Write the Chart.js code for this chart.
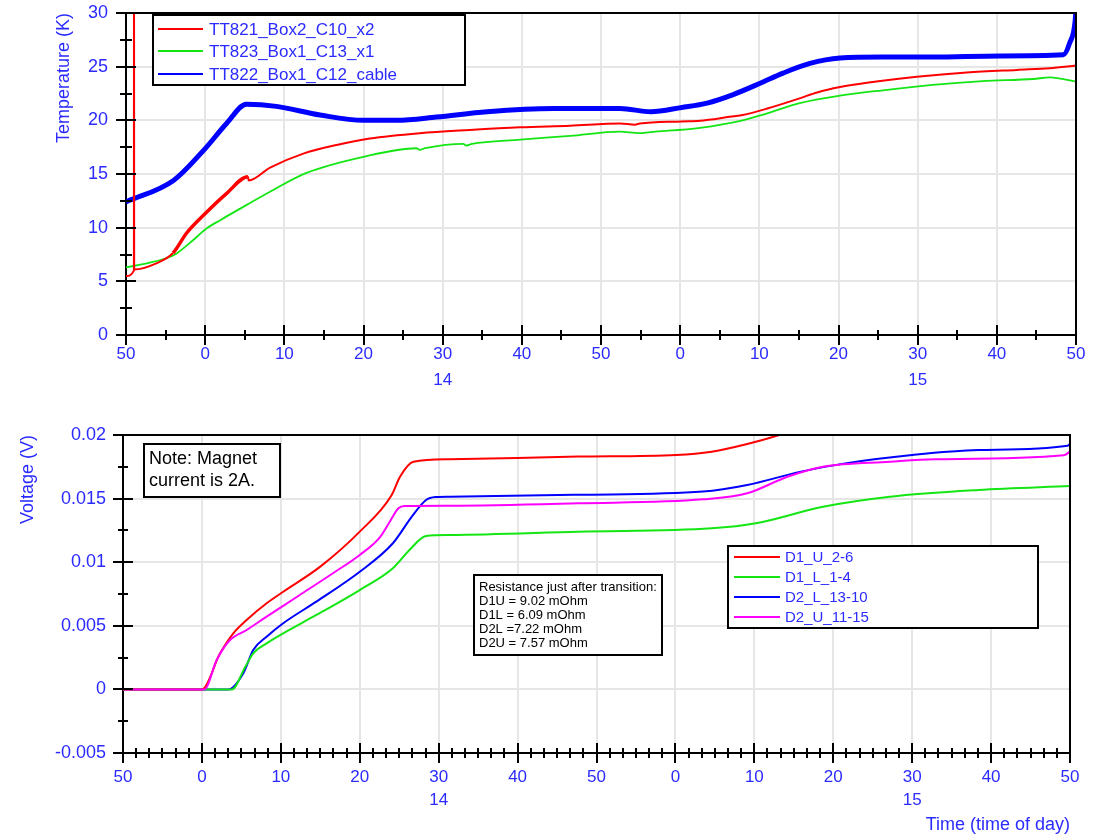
<!DOCTYPE html>
<html>
<head>
<meta charset="utf-8">
<title>Temperature and voltage vs time of day</title>
<script src="https://cdn.jsdelivr.net/npm/chart.js@4.4.1/dist/chart.umd.min.js"></script>
<style>
  html, body { margin: 0; padding: 0; background: #ffffff; }
  #wrap { position: relative; width: 1102px; height: 836px; overflow: hidden; background: #ffffff; }
  canvas { position: absolute; left: 0; }
  #tempCanvas { top: 0; }
  #voltCanvas { top: 400px; }
</style>
</head>
<body>
<div id="wrap">
  <canvas id="tempCanvas" width="1102" height="400"></canvas>
  <canvas id="voltCanvas" width="1102" height="436"></canvas>
</div>
<script>
// ---- Time axis (minutes after 13:50) ----
const minuteTickLabels = ['50', '0', '10', '20', '30', '40', '50', '0', '10', '20', '30', '40', '50'];
const hourTickIndex = [4, 10];
const hourTickLabels = ['14', '15'];

// ---- Temperatures (K) ----
const tt821Time = [0, 1.0, 1.01, 1.03, 3.9, 5.94, 7.66, 9.98, 12.72, 15.4, 15.5, 18.2, 22.4, 26.6, 30.8, 37.1, 43.4, 49.8, 56.1, 62.4, 64.3, 64.9, 70.2, 72.5, 76.0, 77.9, 81.0, 85.1, 87.3, 90.2, 93.6, 99.9, 106.2, 112.5, 116.7, 120];
const tt821Temp = [5.5, 6.0, 40, 6.1, 6.7, 7.64, 9.5, 11.3, 13.2, 14.75, 14.4, 15.6, 16.9, 17.7, 18.3, 18.8, 19.1, 19.35, 19.5, 19.7, 19.6, 19.7, 19.9, 19.97, 20.3, 20.5, 21.1, 22.05, 22.6, 23.1, 23.5, 24.05, 24.45, 24.7, 24.85, 25.1];

const tt823Time = [0, 3.0, 5.1, 6.4, 8.5, 10.2, 11.9, 15.2, 18.2, 22.8, 30.0, 36.7, 37.1, 37.8, 42.6, 43.0, 43.7, 49.8, 56.1, 62.4, 64.8, 66.2, 72.5, 77.9, 81.0, 85.1, 90.2, 95.6, 101.9, 108.2, 114.6, 116.7, 120];
const tt823Temp = [6.3, 6.74, 7.15, 7.6, 8.85, 9.94, 10.7, 12.1, 13.35, 15.1, 16.6, 17.4, 17.25, 17.4, 17.8, 17.65, 17.8, 18.2, 18.55, 18.95, 18.8, 18.9, 19.3, 20.0, 20.65, 21.6, 22.3, 22.8, 23.3, 23.65, 23.85, 24.0, 23.6];

const tt822Time = [0, 6.0, 9.8, 12.7, 15.2, 19.0, 24.5, 30.0, 34.2, 39.2, 45.6, 54.0, 62.4, 66.3, 70.2, 73.4, 76.7, 80.1, 83.0, 86.4, 90.2, 95.6, 101.9, 110.4, 118.4, 119.2, 119.9, 120];
const tt822Temp = [12.4, 14.4, 17.2, 19.7, 21.5, 21.3, 20.5, 20.0, 20.0, 20.3, 20.8, 21.1, 21.1, 20.8, 21.2, 21.6, 22.4, 23.45, 24.4, 25.3, 25.8, 25.9, 25.9, 26.0, 26.1, 27.2, 29.3, 30.5];

// ---- Voltages (V) ----
const d1uTime = [0, 10.0, 12.3, 13.98, 15.67, 18.2, 20.3, 25.0, 30.0, 34.05, 35.1, 36.8, 41.4, 57.7, 70.1, 74.6, 79.1, 83.6, 88.0];
const d1uVolt = [0, 0, 0.00284, 0.00441, 0.00546, 0.00677, 0.00768, 0.00965, 0.0124, 0.01528, 0.01672, 0.0179, 0.01809, 0.0183, 0.01843, 0.01869, 0.01929, 0.02008, 0.0210];

const d1lTime = [0, 13.8, 15.5, 16.5, 18.2, 20.3, 24.5, 30.0, 34.2, 36.3, 38.4, 41.4, 57.7, 74.6, 80.2, 88.7, 97.2, 108.4, 120];
const d1lVolt = [0, 0, 0.00178, 0.00284, 0.00362, 0.00441, 0.00585, 0.00781, 0.00952, 0.01096, 0.01206, 0.01214, 0.0124, 0.01266, 0.01306, 0.01436, 0.01515, 0.01568, 0.01599];

const d2lTime = [0, 13.35, 15.25, 16.5, 18.2, 20.3, 24.5, 30.0, 34.2, 36.6, 38.4, 39.6, 41.4, 57.7, 73.5, 79.1, 85.9, 91.5, 100, 108.4, 119.7, 120];
const d2lVolt = [0, 0, 0.00127, 0.0031, 0.00414, 0.0052, 0.0069, 0.00925, 0.01149, 0.01358, 0.01489, 0.01512, 0.01515, 0.0153, 0.01555, 0.01607, 0.01712, 0.01777, 0.01843, 0.01882, 0.01916, 0.0193];

const d2uTime = [0, 10.3, 11.87, 13.56, 15.67, 18.2, 22.4, 26.6, 30.0, 32.6, 33.8, 34.9, 35.7, 41.4, 57.7, 73.5, 79.1, 84.2, 88.7, 97.2, 102.8, 119.2, 120];
const d2uVolt = [0, 0, 0.00231, 0.00388, 0.00467, 0.00572, 0.00742, 0.00913, 0.01057, 0.012, 0.01318, 0.01424, 0.01442, 0.01444, 0.01463, 0.01494, 0.01542, 0.01672, 0.01751, 0.0179, 0.01809, 0.0184, 0.01869];

// ---- Text boxes ----
const noteLines = ['Note: Magnet', 'current is 2A.'];
const resistanceLines = ['Resistance just after transition:', 'D1U = 9.02 mOhm', 'D1L = 6.09 mOhm', 'D2L =7.22 mOhm', 'D2U = 7.57 mOhm'];

const TEXT_BLUE = '#2b2bff';
const FONT = "'Liberation Sans', Arial, sans-serif";

const pairs = (xs, ys) => xs.map((x, i) => ({ x, y: ys[i] }));

const timeTickLabel = (value, index) => {
  const lbl = minuteTickLabels[index];
  const h = hourTickIndex.indexOf(index);
  return h >= 0 ? [lbl, hourTickLabels[h]] : lbl;
};

// Tick marks that straddle the axis lines, plus the closing top/right frame
const crossTicks = {
  id: 'crossTicks',
  afterDatasetsDraw(chart, args, o) {
    const { ctx, chartArea: a } = chart;
    const xs = chart.scales.x, ys = chart.scales.y;
    ctx.save();
    ctx.strokeStyle = '#000';
    ctx.lineWidth = 2;
    ctx.beginPath();
    ctx.moveTo(a.left, a.top);
    ctx.lineTo(a.right, a.top);
    ctx.lineTo(a.right, a.bottom);
    ctx.stroke();
    const marks = (scale, minor, major, majorLen, minorLen, horizontal) => {
      const n = Math.round((scale.max - scale.min) / minor);
      ctx.beginPath();
      for (let i = 0; i <= n; i++) {
        const v = scale.min + i * minor;
        const r = (v - scale.min) / major;
        const isMajor = Math.abs(r - Math.round(r)) < 1e-6;
        const len = isMajor ? majorLen : minorLen;
        const p = Math.round(scale.getPixelForValue(v));
        if (horizontal) {
          ctx.moveTo(p, a.bottom - len);
          ctx.lineTo(p, a.bottom + len);
        } else {
          ctx.moveTo(a.left - len, p);
          ctx.lineTo(a.left + len, p);
        }
      }
      ctx.stroke();
    };
    marks(xs, o.xMinor, o.xMajor, o.xMajorLen, o.xMinorLen, true);
    marks(ys, o.yMinor, o.yMajor, o.yMajorLen, o.yMinorLen, false);
    ctx.restore();
  }
};

// Boxed legend built from the dataset labels and colours
const boxLegend = {
  id: 'boxLegend',
  afterDraw(chart, args, o) {
    const ctx = chart.ctx;
    ctx.save();
    ctx.fillStyle = '#fff';
    ctx.fillRect(o.left, o.top, o.width, o.height);
    ctx.lineWidth = 2;
    ctx.strokeStyle = '#000';
    ctx.strokeRect(o.left, o.top, o.width, o.height);
    ctx.font = o.fontSize + 'px ' + FONT;
    ctx.textBaseline = 'middle';
    ctx.textAlign = 'left';
    chart.data.datasets.forEach((ds, i) => {
      const yy = Math.round(o.top + o.firstRow + i * o.rowGap);
      ctx.strokeStyle = ds.borderColor;
      ctx.lineWidth = 2;
      ctx.beginPath();
      ctx.moveTo(o.left + o.lineStart, yy);
      ctx.lineTo(o.left + o.lineEnd, yy);
      ctx.stroke();
      ctx.fillStyle = TEXT_BLUE;
      ctx.fillText(ds.label, o.left + o.textStart, yy + 1);
    });
    ctx.restore();
  }
};

// Framed text notes on the voltage plot
const textBoxes = {
  id: 'textBoxes',
  afterDraw(chart) {
    const ctx = chart.ctx;
    const boxes = [
      { lines: noteLines, left: 144, top: 44, width: 136, height: 53, size: 18, first: 15, gap: 22 },
      { lines: resistanceLines, left: 474, top: 175, width: 188, height: 80, size: 13, first: 12, gap: 14.2 }
    ];
    ctx.save();
    boxes.forEach(b => {
      ctx.fillStyle = '#fff';
      ctx.fillRect(b.left, b.top, b.width, b.height);
      ctx.lineWidth = 2;
      ctx.strokeStyle = '#000';
      ctx.strokeRect(b.left, b.top, b.width, b.height);
      ctx.fillStyle = '#000';
      ctx.font = b.size + 'px ' + FONT;
      ctx.textBaseline = 'middle';
      ctx.textAlign = 'left';
      b.lines.forEach((t, i) => ctx.fillText(t, b.left + 5, b.top + b.first + i * b.gap));
    });
    ctx.restore();
  }
};

Chart.defaults.font.family = FONT;
Chart.defaults.animation = false;
Chart.defaults.elements.point.radius = 0;
Chart.defaults.elements.point.hoverRadius = 0;
Chart.defaults.elements.line.cubicInterpolationMode = 'monotone';
Chart.defaults.elements.line.borderJoinStyle = 'round';

const gridStyle = { color: '#e6e6e6', lineWidth: 2, drawTicks: false };
const axisBorder = { display: true, color: '#000', width: 2 };

// fixed axis widths; label overhang is already covered by the layout padding
const fixYAxis = w => s => { s.width = w; s.paddingTop = 11; s.paddingBottom = 11; };

// ---- Temperature chart ----
new Chart(document.getElementById('tempCanvas'), {
  type: 'line',
  data: {
    datasets: [
      { label: 'TT821_Box2_C10_x2', data: pairs(tt821Time, tt821Temp), borderColor: '#ff0000', borderWidth: 2,
        segment: { borderWidth: c => (c.p0.parsed.x >= 5.9 && c.p1.parsed.x <= 15.45) ? 3.5 : 2 } },
      { label: 'TT823_Box1_C13_x1', data: pairs(tt823Time, tt823Temp), borderColor: '#14e614', borderWidth: 1.8 },
      { label: 'TT822_Box1_C12_cable', data: pairs(tt822Time, tt822Temp), borderColor: '#0000ff', borderWidth: 5 }
    ]
  },
  options: {
    responsive: false,
    devicePixelRatio: 1,
    layout: { padding: { left: 0, top: 13, right: 26, bottom: 0 } },
    plugins: {
      legend: { display: false },
      tooltip: { enabled: false },
      crossTicks: { xMinor: 5, xMajor: 10, xMajorLen: 10, xMinorLen: 5, yMinor: 2.5, yMajor: 5, yMajorLen: 10, yMinorLen: 6 },
      boxLegend: { left: 153, top: 15, width: 312, height: 70, firstRow: 13.5, rowGap: 22.5, lineStart: 5, lineEnd: 50, textStart: 56, fontSize: 17 }
    },
    scales: {
      x: {
        type: 'linear', min: 0, max: 120,
        grid: gridStyle, border: axisBorder,
        ticks: { stepSize: 10, autoSkip: false, maxRotation: 0, padding: 7, color: TEXT_BLUE,
                 font: { size: 17, lineHeight: 1.5 }, callback: timeTickLabel },
        afterFit: s => { s.height = 65; }
      },
      y: {
        min: 0, max: 30,
        grid: gridStyle, border: axisBorder,
        ticks: { stepSize: 5, padding: 18, color: TEXT_BLUE, font: { size: 18 } },
        title: { display: true, text: 'Temperature (K)', align: 'end', color: TEXT_BLUE,
                 font: { size: 18 }, padding: { top: 53, bottom: 0 } },
        afterFit: fixYAxis(126)
      }
    }
  },
  plugins: [crossTicks, boxLegend]
});

// ---- Voltage chart ----
new Chart(document.getElementById('voltCanvas'), {
  type: 'line',
  data: {
    datasets: [
      { label: 'D1_U_2-6', data: pairs(d1uTime, d1uVolt), borderColor: '#ff0000', borderWidth: 2 },
      { label: 'D1_L_1-4', data: pairs(d1lTime, d1lVolt), borderColor: '#14e614', borderWidth: 2 },
      { label: 'D2_L_13-10', data: pairs(d2lTime, d2lVolt), borderColor: '#0000ff', borderWidth: 2 },
      { label: 'D2_U_11-15', data: pairs(d2uTime, d2uVolt), borderColor: '#ff00ff', borderWidth: 2, order: -1 }
    ]
  },
  options: {
    responsive: false,
    devicePixelRatio: 1,
    layout: { padding: { left: 0, top: 35, right: 32, bottom: 0 } },
    plugins: {
      legend: { display: false },
      tooltip: { enabled: false },
      crossTicks: { xMinor: 10 / 6, xMajor: 10, xMajorLen: 10, xMinorLen: 5, yMinor: 0.0025, yMajor: 0.005, yMajorLen: 10, yMinorLen: 5 },
      boxLegend: { left: 728, top: 146, width: 310, height: 82, firstRow: 11, rowGap: 20, lineStart: 6, lineEnd: 52, textStart: 57, fontSize: 15 }
    },
    scales: {
      x: {
        type: 'linear', min: 0, max: 120,
        grid: gridStyle, border: axisBorder,
        ticks: { stepSize: 10, autoSkip: false, maxRotation: 0, padding: 12.5, color: TEXT_BLUE,
                 font: { size: 17, lineHeight: 1.353 }, callback: timeTickLabel },
        title: { display: true, text: 'Time (time of day)', align: 'end', color: TEXT_BLUE,
                 font: { size: 18 }, padding: { top: 0, bottom: 0 } },
        afterFit: s => { s.height = 83; }
      },
      y: {
        min: -0.005, max: 0.02,
        grid: gridStyle, border: axisBorder,
        ticks: { stepSize: 0.005, padding: 17, color: TEXT_BLUE, font: { size: 18 },
                 callback: v => String(+Number(v).toFixed(4)) },
        title: { display: true, text: 'Voltage (V)', align: 'end', color: TEXT_BLUE,
                 font: { size: 18 }, padding: { top: 17, bottom: 0 } },
        afterFit: fixYAxis(123)
      }
    }
  },
  plugins: [crossTicks, boxLegend, textBoxes]
});
</script>
</body>
</html>
